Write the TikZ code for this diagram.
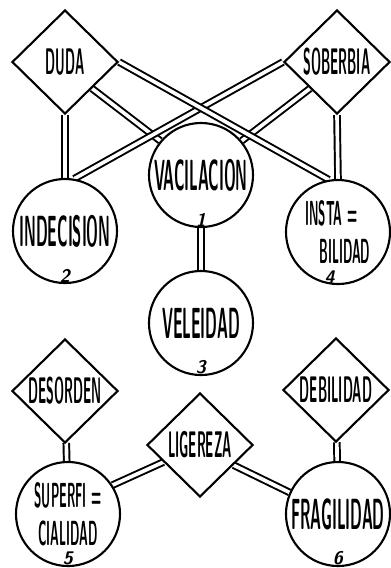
\documentclass[tikz,border=0pt]{standalone}
\usepackage{graphicx}
\usetikzlibrary{shapes.geometric,positioning,backgrounds}

\tikzset{
  vice/.style={diamond,draw,line width=1.5pt,fill=white,inner sep=0pt,
    minimum width=2.65cm,minimum height=2.6cm,
    font=\fontsize{17}{19}\selectfont\sffamily\bfseries},
  state/.style={circle,draw,line width=1.5pt,fill=white,inner sep=0pt,
    minimum size=2.6cm,font=\fontsize{20}{22}\selectfont\sffamily\bfseries},
  twoline/.style={state,font=\fontsize{16}{27}\selectfont\sffamily\bfseries},
  link/.style={double,line width=1.4pt,double distance=2.6pt},
  num/.style={font=\fontsize{13}{13}\selectfont\sffamily\bfseries\itshape,inner sep=1pt}
}
\newcommand{\narrow}[1]{\scalebox{0.53}[1.55]{#1}}

\begin{document}
\begin{tikzpicture}[x=0.025cm,y=-0.025cm]
\useasboundingbox (0,0) rectangle (390,568);
% upper group
\node[vice] (duda) at (65,62) {\narrow{DUDA}};
\node[vice] (sob) at (337,62) {\narrow{SOBERBIA}};
\node[state] (vac) at (201,175) {\narrow{VACILACION}};
\node[state] (indec) at (65,231) {\narrow{INDECISION}};
\node[twoline,align=left] (insta) at (338,232) {\narrow{INSTA =}\\\hspace*{0.35cm}\narrow{BILIDAD}};
\node[state] (vel) at (201,323) {\narrow{VELEIDAD}};
% lower group
\node[vice] (deso) at (65,391) {\narrow{DESORDEN}};
\node[vice] (debi) at (336,390) {\narrow{DEBILIDAD}};
\node[vice] (lig) at (200,445) {\narrow{LIGEREZA}};
\node[twoline,align=center] (sup) at (68,514) {\narrow{SUPERFI =}\\\narrow{CIALIDAD}};
\node[state] (frag) at (338,514) {\narrow{FRAGILIDAD}};
% numbers
\node[num,above=0pt of vac.south] (n1) {1};
\node[num,above=0pt of indec.south] (n2) {2};
\node[num,above=0pt of vel.south] (n3) {3};
\node[num,above=0pt of insta.south,xshift=-6pt] (n4) {4};
\node[num,above=0pt of sup.south] (n5) {5};
\node[num,above=0pt of frag.south] (n6) {6};

\begin{scope}[on background layer]
\fill[white] (0,0) rectangle (390,568);
\draw[link] (duda.south) -- (indec.north);
\draw[link] (sob.south) -- (insta.north);
\draw[link] (duda.south east) -- (vac.140);
\draw[link] (sob.south west) -- (vac.40);
\draw[link] (sob.west) -- (indec.80);
\draw[link] (duda.east) -- (insta.100);
\draw[link] (vac) -- (vel);
\draw[link] (deso) -- (sup);
\draw[link] (debi) -- (frag);
\draw[link] (lig.205) -- (sup.33);
\draw[link] (lig.329) -- (frag.156);
\end{scope}
\end{tikzpicture}
\end{document}
